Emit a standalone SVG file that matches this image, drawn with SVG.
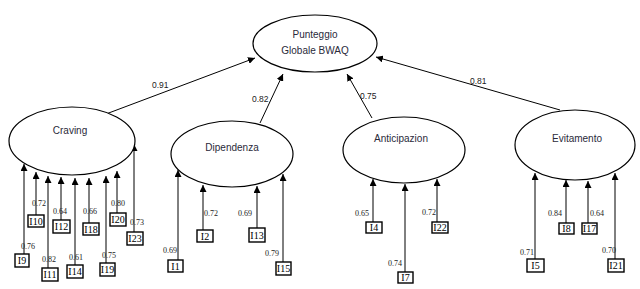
<svg xmlns="http://www.w3.org/2000/svg" width="640" height="289" viewBox="0 0 640 289">
<defs>
<marker id="ah" viewBox="0 0 10 10" refX="10" refY="5" markerWidth="7" markerHeight="7" markerUnits="userSpaceOnUse" orient="auto">
<path d="M0,0 L10,5 L0,10 Z" fill="#000"/>
</marker>
<style>
.lat{fill:#fff;stroke:#000;stroke-width:1.2}
.name{font-family:"Liberation Sans",Arial,sans-serif;font-size:10px;fill:#2a2a3a;text-anchor:middle}
.box{fill:#fff;stroke:#000;stroke-width:1.4}
.bl{font-family:"Liberation Serif","Times New Roman",serif;font-size:10px;fill:#000;text-anchor:middle}
.num{font-family:"Liberation Serif","Times New Roman",serif;font-size:8px;fill:#222}
.numS{font-family:"Liberation Sans",Arial,sans-serif;font-size:8.5px;fill:#222}
.c{stroke:#000;stroke-width:1;fill:none;marker-end:url(#ah)}
</style>
</defs>
<rect width="640" height="289" fill="#fff"/>
<g id="connectors">
<line class="c" x1="106" y1="114" x2="255" y2="58"/>
<line class="c" x1="260" y1="123" x2="283" y2="74"/>
<line class="c" x1="372" y1="118" x2="347" y2="74"/>
<line class="c" x1="560" y1="110" x2="376" y2="57"/>
<line class="c" x1="24" y1="254" x2="24" y2="164"/>
<line class="c" x1="36" y1="215" x2="36" y2="172"/>
<line class="c" x1="48" y1="268" x2="48" y2="176"/>
<line class="c" x1="61" y1="220" x2="61" y2="177"/>
<line class="c" x1="75" y1="265" x2="75" y2="178"/>
<line class="c" x1="89" y1="223" x2="89" y2="178"/>
<line class="c" x1="106" y1="263" x2="106" y2="176"/>
<line class="c" x1="117" y1="213" x2="117" y2="171"/>
<line class="c" x1="134" y1="232" x2="134" y2="144"/>
<line class="c" x1="178" y1="260" x2="178" y2="170"/>
<line class="c" x1="203" y1="230" x2="203" y2="185"/>
<line class="c" x1="257" y1="228" x2="257" y2="186"/>
<line class="c" x1="283" y1="262" x2="283" y2="174"/>
<line class="c" x1="373" y1="222" x2="373" y2="179"/>
<line class="c" x1="405" y1="272" x2="405" y2="184"/>
<line class="c" x1="437" y1="222" x2="437" y2="179"/>
<line class="c" x1="535" y1="259" x2="535" y2="173"/>
<line class="c" x1="566" y1="223" x2="566" y2="180"/>
<line class="c" x1="588" y1="223" x2="588" y2="181"/>
<line class="c" x1="615" y1="259" x2="615" y2="173"/>
</g>
<g id="path-labels">
<text class="numS" x="152" y="88">0.91</text>
<text class="numS" x="252" y="102">0.82</text>
<text class="numS" x="360" y="99">0.75</text>
<text class="numS" x="470" y="84">0.81</text>
<text class="num" x="21" y="249">0.76</text>
<text class="num" x="32" y="206">0.72</text>
<text class="num" x="42" y="262">0.82</text>
<text class="num" x="53" y="214">0.64</text>
<text class="num" x="69" y="260">0.61</text>
<text class="num" x="83" y="214">0.66</text>
<text class="num" x="102" y="258">0.75</text>
<text class="num" x="111" y="206">0.80</text>
<text class="num" x="130" y="225">0.73</text>
<text class="num" x="163" y="253">0.69</text>
<text class="num" x="204" y="216">0.72</text>
<text class="num" x="238" y="216">0.69</text>
<text class="num" x="265" y="256">0.79</text>
<text class="num" x="355" y="216">0.65</text>
<text class="num" x="388" y="266">0.74</text>
<text class="num" x="422" y="215">0.72</text>
<text class="num" x="520" y="255">0.71</text>
<text class="num" x="548" y="216">0.84</text>
<text class="num" x="590" y="216">0.64</text>
<text class="num" x="602" y="253">0.70</text>
</g>
<g id="node-bwaq">
<ellipse class="lat" cx="315" cy="43.5" rx="62" ry="28.5"/>
<text class="name" x="315" y="38">Punteggio</text>
<text class="name" x="315" y="54">Globale BWAQ</text>
</g>
<g id="node-craving">
<ellipse class="lat" cx="72" cy="141" rx="63" ry="34"/>
<text class="name" x="70" y="134">Craving</text>
</g>
<g id="node-dipendenza">
<ellipse class="lat" cx="232" cy="154" rx="61" ry="33"/>
<text class="name" x="232" y="151">Dipendenza</text>
</g>
<g id="node-anticipazion">
<ellipse class="lat" cx="404" cy="150" rx="61" ry="33"/>
<text class="name" x="401" y="142">Anticipazion</text>
</g>
<g id="node-evitamento">
<ellipse class="lat" cx="575" cy="145" rx="60" ry="35"/>
<text class="name" x="577" y="142">Evitamento</text>
</g>
<g id="node-I9"><rect class="box" x="15" y="254" width="14" height="13"/><text class="bl" x="22" y="264">I9</text></g>
<g id="node-I10"><rect class="box" x="28" y="215" width="16" height="12"/><text class="bl" x="36" y="225">I10</text></g>
<g id="node-I11"><rect class="box" x="42" y="268" width="16" height="13"/><text class="bl" x="50" y="278">I11</text></g>
<g id="node-I12"><rect class="box" x="53" y="220" width="17" height="13"/><text class="bl" x="61.5" y="230">I12</text></g>
<g id="node-I14"><rect class="box" x="67" y="265" width="16" height="13"/><text class="bl" x="75" y="275">I14</text></g>
<g id="node-I18"><rect class="box" x="83" y="223" width="16" height="12"/><text class="bl" x="91" y="233">I18</text></g>
<g id="node-I19"><rect class="box" x="100" y="263" width="15" height="13"/><text class="bl" x="107.5" y="273">I19</text></g>
<g id="node-I20"><rect class="box" x="110" y="213" width="16" height="13"/><text class="bl" x="118" y="223">I20</text></g>
<g id="node-I23"><rect class="box" x="127" y="232" width="16" height="13"/><text class="bl" x="135" y="242">I23</text></g>
<g id="node-I1"><rect class="box" x="168" y="260" width="15" height="12"/><text class="bl" x="175.5" y="270">I1</text></g>
<g id="node-I2"><rect class="box" x="197" y="230" width="16" height="12"/><text class="bl" x="205" y="240">I2</text></g>
<g id="node-I13"><rect class="box" x="249" y="228" width="16" height="14"/><text class="bl" x="257" y="239">I13</text></g>
<g id="node-I15"><rect class="box" x="276" y="262" width="15" height="13"/><text class="bl" x="283.5" y="272">I15</text></g>
<g id="node-I4"><rect class="box" x="366" y="222" width="16" height="11"/><text class="bl" x="374" y="231">I4</text></g>
<g id="node-I7"><rect class="box" x="398" y="272" width="15" height="11"/><text class="bl" x="405.5" y="281">I7</text></g>
<g id="node-I22"><rect class="box" x="432" y="222" width="16" height="11"/><text class="bl" x="440" y="231">I22</text></g>
<g id="node-I5"><rect class="box" x="527" y="259" width="17" height="13"/><text class="bl" x="535.5" y="269">I5</text></g>
<g id="node-I8"><rect class="box" x="559" y="223" width="15" height="11"/><text class="bl" x="566.5" y="232">I8</text></g>
<g id="node-I17"><rect class="box" x="582" y="223" width="15" height="11"/><text class="bl" x="589.5" y="232">I17</text></g>
<g id="node-I21"><rect class="box" x="608" y="259" width="16" height="13"/><text class="bl" x="616" y="269">I21</text></g>
</svg>
